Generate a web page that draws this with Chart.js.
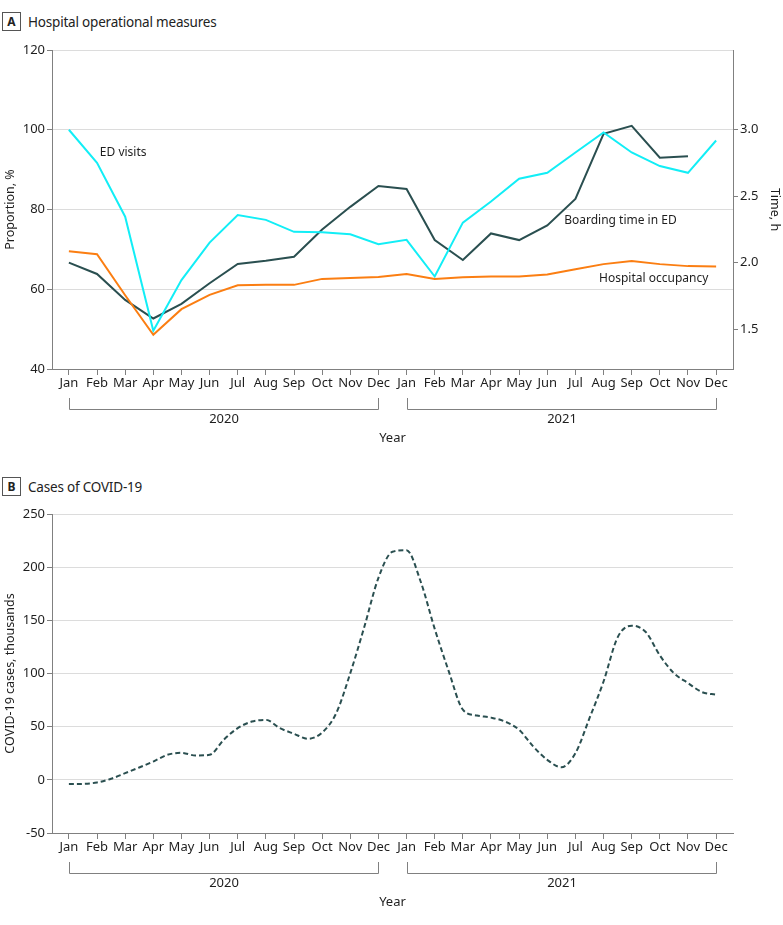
<!DOCTYPE html>
<html>
<head>
<meta charset="utf-8">
<script src="https://cdn.jsdelivr.net/npm/chart.js@4.4.1/dist/chart.umd.min.js"></script>
<style>
  body { margin: 0; width: 783px; height: 925px; position: relative; background: #fff; font-family: 'Noto Sans', sans-serif; overflow: hidden; }
  .panel { position: absolute; left: 0; width: 783px; height: 430px; }
  .hdr { position: absolute; left: 2px; height: 19px; display: flex; align-items: center; }
  .tag { box-sizing: border-box; width: 19px; height: 19px; border: 1px solid #555; font-weight: bold; font-size: 12px; display: flex; align-items: center; justify-content: center; color: #222; }
  .hdr span { margin-left: 7px; font-size: 13.5px; color: #222; letter-spacing: -0.2px; }
</style>
</head>
<body>
<div class="hdr" style="top:12px"><div class="tag">A</div><span>Hospital operational measures</span></div>
<div class="panel" style="top:40px"><canvas id="ops-chart"></canvas></div>
<div class="hdr" style="top:477px"><div class="tag">B</div><span>Cases of COVID-19</span></div>
<div class="panel" style="top:495px"><canvas id="cases-chart"></canvas></div>
<script>
const months = ['Jan', 'Feb', 'Mar', 'Apr', 'May', 'Jun', 'Jul', 'Aug', 'Sep', 'Oct', 'Nov', 'Dec',
                'Jan', 'Feb', 'Mar', 'Apr', 'May', 'Jun', 'Jul', 'Aug', 'Sep', 'Oct', 'Nov', 'Dec'];
const years = ['2020', '2021'];

// panel A, proportion %
const edVisits = [100, 91.7, 78.2, 49.6, 62.3, 71.7, 78.6, 77.4, 74.4, 74.3, 73.8, 71.3,
                  72.4, 63.2, 76.7, 82.0, 87.7, 89.2, 94.3, 99.3, 94.3, 90.9, 89.2, 97.3];
const occupancy = [69.5, 68.8, 58.5, 48.6, 55.0, 58.6, 61.0, 61.1, 61.1, 62.6, 62.8, 63.1,
                   63.8, 62.6, 63.0, 63.2, 63.2, 63.7, 65.0, 66.3, 67.1, 66.3, 65.8, 65.7];
// panel A, hours (right axis)
const boardingTime = [2.0, 1.915, 1.72, 1.58, 1.69, 1.845, 1.99, 2.015, 2.045, 2.25, 2.42, 2.577,
                      2.554, 2.17, 2.02, 2.22, 2.17, 2.28, 2.48, 2.97, 3.03, 2.79, 2.80, null];

// panel B, thousands of cases, read twice a month
const cases = [-4, -3.8, -2.5, 1, 6.3, 11.6, 17.2, 23.5, 25.4, 22.9, 23.5, 37.6,
               48.6, 54.8, 56.4, 48.6, 43.3, 38.6, 44.5, 62.7, 100.3, 144, 190, 214.5,
               216, 186.5, 142, 102, 66, 60.5, 58.5, 54.8, 47, 31.4, 18.8, 11.9,
               25, 58, 92.5, 134, 145, 139, 117, 100.3, 91, 82.5, 80];

const leftTicks = [40, 60, 80, 100, 120];
const rightTicks = [1.5, 2.0, 2.5, 3.0];
const caseTicks = [-50, 0, 50, 100, 150, 200, 250];

const dark = '#2a4f50';
const cyan = '#12eef6';
const orange = '#fb7e12';
const axisGray = '#808080';
const gridGray = '#dcdcdc';
const textColor = '#1e1e1e';

Chart.defaults.font.family = "'Noto Sans', sans-serif";
Chart.defaults.font.size = 13;
Chart.defaults.color = textColor;

const toPoints = (arr, step) => arr.map((v, i) => ({ x: i * step, y: v }));

const xAxis = (height) => ({
    type: 'linear',
    min: -0.6,
    max: 23.6,
    afterBuildTicks: s => { s.ticks = months.map((m, i) => ({ value: i })); },
    afterFit: s => { s.height = height; },
    ticks: { callback: (v) => months[v], maxRotation: 0, autoSkip: false, padding: 0, color: textColor },
    grid: { drawOnChartArea: false, drawTicks: true, tickLength: 6, tickColor: axisGray },
    border: { color: axisGray, width: 1 }
});

const yearBrackets = {
    id: 'yearBrackets',
    afterDraw(chart, args, opts) {
        const { ctx, chartArea } = chart;
        const x = chart.scales.x;
        const base = chartArea.bottom;
        ctx.save();
        ctx.strokeStyle = axisGray;
        ctx.lineWidth = 1;
        ctx.fillStyle = textColor;
        ctx.font = "13px 'Noto Sans', sans-serif";
        ctx.textAlign = 'center';
        ctx.textBaseline = 'middle';
        years.forEach((yr, k) => {
            const a = Math.round(x.getPixelForValue(k * 12)) + 0.5;
            const b = Math.round(x.getPixelForValue(k * 12 + 11)) + 0.5;
            ctx.beginPath();
            ctx.moveTo(a, base + 29);
            ctx.lineTo(a, base + 40.5);
            ctx.lineTo(b, base + 40.5);
            ctx.lineTo(b, base + 29);
            ctx.stroke();
            ctx.fillText(yr, (a + b) / 2, base + 50);
        });
        ctx.fillText('Year', (chartArea.left + chartArea.right) / 2, base + 69);

        ctx.font = "12.5px 'Noto Sans', sans-serif";
        const midY = (chartArea.top + chartArea.bottom) / 2;
        ctx.save();
        ctx.translate(10, midY);
        ctx.rotate(-Math.PI / 2);
        ctx.fillText(opts.leftTitle, 0, 0);
        ctx.restore();
        if (opts.rightTitle) {
            ctx.save();
            ctx.translate(775, midY);
            ctx.rotate(Math.PI / 2);
            ctx.fillText(opts.rightTitle, 0, 0);
            ctx.restore();
        }
        ctx.restore();
    }
};

const seriesLabels = {
    id: 'seriesLabels',
    afterDatasetsDraw(chart) {
        const { ctx } = chart;
        const x = chart.scales.x, y = chart.scales.y;
        ctx.save();
        ctx.fillStyle = textColor;
        ctx.font = "12px 'Noto Sans', sans-serif";
        ctx.textAlign = 'left';
        ctx.textBaseline = 'middle';
        ctx.fillText('ED visits', x.getPixelForValue(1.1), y.getPixelForValue(94.2));
        ctx.fillText('Boarding time in ED', x.getPixelForValue(17.6), y.getPixelForValue(77.1));
        ctx.fillText('Hospital occupancy', x.getPixelForValue(18.84), y.getPixelForValue(62.6));
        ctx.restore();
    }
};

const opsChart = new Chart(document.getElementById('ops-chart'), {
    type: 'line',
    data: {
        datasets: [
            { label: 'Hospital occupancy', data: toPoints(occupancy, 1), borderColor: orange, yAxisID: 'y' },
            { label: 'ED visits', data: toPoints(edVisits, 1), borderColor: cyan, yAxisID: 'y' },
            { label: 'Boarding time in ED', data: toPoints(boardingTime, 1), borderColor: dark, yAxisID: 'y1' }
        ]
    },
    options: {
        responsive: true,
        maintainAspectRatio: false,
        animation: false,
        layout: { padding: { top: 10, left: 0, right: 0, bottom: 0 } },
        elements: { point: { radius: 0 }, line: { borderWidth: 2, tension: 0 } },
        plugins: {
            legend: { display: false },
            tooltip: { enabled: false },
            yearBrackets: { leftTitle: 'Proportion, %', rightTitle: 'Time, h' }
        },
        scales: {
            x: xAxis(101),
            y: {
                position: 'left',
                min: 40,
                max: 120,
                afterBuildTicks: s => { s.ticks = leftTicks.map(v => ({ value: v })); },
                afterFit: s => { s.width = 52; },
                ticks: { padding: 2, color: textColor },
                grid: { color: gridGray, tickColor: axisGray, tickLength: 5 },
                border: { color: axisGray, width: 1 }
            },
            y1: {
                position: 'right',
                min: 1.2,
                max: 3.6,
                afterBuildTicks: s => { s.ticks = rightTicks.map(v => ({ value: v })); },
                afterFit: s => { s.width = 50; },
                ticks: { padding: 2, color: textColor, callback: v => v.toFixed(1) },
                grid: { drawOnChartArea: false, tickColor: axisGray, tickLength: 5 },
                border: { color: axisGray, width: 1 }
            }
        }
    },
    plugins: [yearBrackets, seriesLabels]
});

const casesChart = new Chart(document.getElementById('cases-chart'), {
    type: 'line',
    data: {
        datasets: [{
            label: 'COVID-19 cases',
            data: toPoints(cases, 0.5),
            borderColor: dark,
            borderWidth: 2,
            borderDash: [5, 3],
            cubicInterpolationMode: 'monotone'
        }]
    },
    options: {
        responsive: true,
        maintainAspectRatio: false,
        animation: false,
        layout: { padding: { top: 19, left: 0, right: 50, bottom: 0 } },
        elements: { point: { radius: 0 } },
        plugins: {
            legend: { display: false },
            tooltip: { enabled: false },
            yearBrackets: { leftTitle: 'COVID-19 cases, thousands' }
        },
        scales: {
            x: xAxis(92),
            y: {
                position: 'left',
                min: -50,
                max: 250,
                afterBuildTicks: s => { s.ticks = caseTicks.map(v => ({ value: v })); },
                afterFit: s => { s.width = 52; },
                ticks: { padding: 2, color: textColor },
                grid: { color: gridGray, tickColor: axisGray, tickLength: 5 },
                border: { color: axisGray, width: 1 }
            }
        }
    },
    plugins: [yearBrackets]
});
</script>
</body>
</html>
